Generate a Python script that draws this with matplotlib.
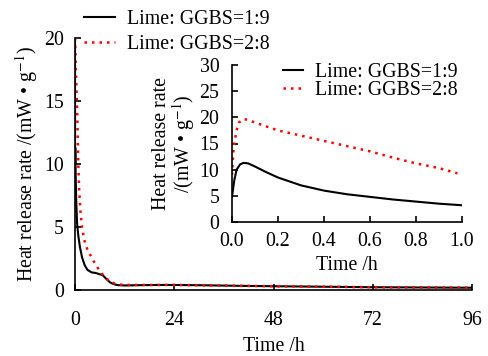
import matplotlib
matplotlib.use("Agg")
import matplotlib.pyplot as plt

plt.rcParams['font.family'] = ['Liberation Serif', 'DejaVu Serif']
plt.rcParams['mathtext.fontset'] = 'stix'
plt.rcParams['font.size'] = 14.3

# main plot data (time in h, heat release rate in mW/g)
t_19 = [0, 0.02, 0.05, 0.1, 0.2, 0.3, 0.5, 0.8, 1.2, 1.7, 2.3, 3, 4, 5, 6, 6.8, 7.5, 8.5, 9.5, 10.5, 12, 15, 20, 24, 30, 40, 48, 60, 72, 84, 96]
q_19 = [20, 10, 11.3, 10.5, 8.5, 7, 5.3, 4.3, 3.4, 2.6, 2.0, 1.6, 1.4, 1.35, 1.25, 1.15, 0.9, 0.6, 0.45, 0.38, 0.36, 0.38, 0.4, 0.4, 0.38, 0.33, 0.3, 0.26, 0.22, 0.2, 0.18]
t_28 = [0, 0.05, 0.2, 0.5, 0.8, 1.0, 1.3, 1.7, 2.2, 3, 4, 5, 6, 7, 8, 9, 10, 12, 15, 20, 24, 30, 40, 48, 60, 72, 84, 96]
q_28 = [20, 19.7, 17.5, 14.5, 10, 8, 6.3, 5, 4, 3.2, 2.6, 2.0, 1.5, 1.1, 0.8, 0.6, 0.45, 0.4, 0.4, 0.4, 0.4, 0.38, 0.33, 0.3, 0.26, 0.22, 0.2, 0.18]

# inset data (first hour)
ti_19 = [0, 0.01, 0.02, 0.035, 0.05, 0.07, 0.1, 0.15, 0.2, 0.3, 0.4, 0.5, 0.6, 0.7, 0.8, 0.9, 1.0]
qi_19 = [4.8, 8, 10, 11, 11.3, 11.2, 10.6, 9.5, 8.5, 7.0, 6.0, 5.3, 4.8, 4.3, 3.9, 3.5, 3.2]
ti_28 = [0, 0.005, 0.01, 0.02, 0.03, 0.05, 0.07, 0.1, 0.2, 0.3, 0.4, 0.5, 0.6, 0.7, 0.8, 0.9, 0.98]
qi_28 = [9, 13, 15, 17.5, 19, 19.7, 19.5, 19, 17.5, 16.5, 15.5, 14.5, 13.5, 12.3, 11.2, 10.3, 9.3]

W, H = 488, 356
fig = plt.figure(figsize=(4.88, 3.56), dpi=100)
ax = fig.add_axes([75 / W, (H - 290) / H, (472 - 75) / W, (290 - 38) / H])
ax.plot(t_19, q_19, color='black', lw=1.5, label='Lime: GGBS=1:9')
ax.plot(t_28, q_28, color='red', lw=1.8, ls=(0, (1, 2)), label='Lime: GGBS=2:8')
ax.set_xlim(0, 96)
ax.set_ylim(0, 20)
ax.set_xticks([0, 24, 48, 72, 96])
ax.set_yticks([0, 5, 10, 15, 20])
ax.tick_params(direction='in', length=4, width=1.2)
ax.tick_params(axis='x', pad=15)
ax.tick_params(axis='y', pad=8)
for s in ['top', 'right']:
    ax.spines[s].set_visible(False)
for s in ['left', 'bottom']:
    ax.spines[s].set_linewidth(1.2)
ax.set_xlabel('Time /h', labelpad=5)
ax.set_ylabel(r'Heat release rate /(mW • g$^{-1}$)', labelpad=3)
ax.legend(loc='upper left', bbox_to_anchor=(84 / W, 1 - 10 / H), bbox_transform=fig.transFigure,
          frameon=False, handlelength=1.55, handletextpad=0.6, labelspacing=0.3, borderaxespad=0,
          borderpad=0)

ins = fig.add_axes([232 / W, (H - 222) / H, (462 - 232) / W, (222 - 65) / H])
ins.plot(ti_19, qi_19, color='black', lw=1.5, label='Lime: GGBS=1:9')
ins.plot(ti_28, qi_28, color='red', lw=1.8, ls=(0, (1, 2)), label='Lime: GGBS=2:8')
ins.set_xlim(0, 1.0)
ins.set_ylim(0, 30)
ins.set_xticks([0, 0.2, 0.4, 0.6, 0.8, 1.0])
ins.set_xticklabels(['0.0', '0.2', '0.4', '0.6', '0.8', '1.0'])
ins.set_yticks([0, 5, 10, 15, 20, 25, 30])
ins.tick_params(direction='in', length=4, width=1.2)
ins.tick_params(axis='x', pad=7)
ins.tick_params(axis='y', pad=9)
for s in ['top', 'right']:
    ins.spines[s].set_visible(False)
for s in ['left', 'bottom']:
    ins.spines[s].set_linewidth(1.2)
ins.set_xlabel('Time /h', labelpad=4)
ins.set_ylabel('Heat release rate\n' + r'/(mW • g$^{-1}$)', labelpad=2, linespacing=0.95)
ins.legend(loc='upper left', bbox_to_anchor=(283 / W, 1 - 63 / H), bbox_transform=fig.transFigure,
           frameon=False, handlelength=1.0, handletextpad=0.6, labelspacing=-0.06, borderaxespad=0,
           borderpad=0)

fig.savefig('out.png', dpi=100)
